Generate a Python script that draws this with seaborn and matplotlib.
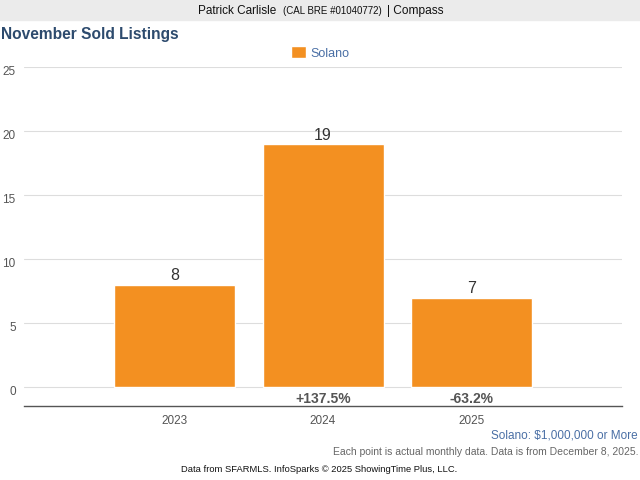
import pandas as pd
import matplotlib.pyplot as plt
import matplotlib.transforms as mtransforms
import seaborn as sns

years = ["2023", "2024", "2025"]
sold = [8, 19, 7]
changes = ["", "+137.5%", "-63.2%"]
region = "Solano"

ORANGE = "#f39021"
BLUE_TITLE = "#2d4b6e"
BLUE_TEXT = "#4a6fa5"

sns.set_theme(style="white")
plt.rcParams["font.family"] = ["Liberation Sans", "DejaVu Sans"]

fig = plt.figure(figsize=(6.4, 4.8), dpi=100)
ax = fig.add_axes([0.0375, 0.154, 0.9345, 0.706])

df = pd.DataFrame({"year": years, "sold": sold})
sns.barplot(data=df, x="year", y="sold", color=ORANGE, saturation=1,
            width=0.815, label=region, ax=ax)

ax.set_xlim(-1.013, 3.013)
ax.set_ylim(-1.48, 25)
ax.set_yticks([0, 5, 10, 15, 20, 25])
ax.set_xlabel("")
ax.set_ylabel("")
for y in [0, 5, 10, 15, 20, 25]:
    ax.axhline(y, color="#dddddd", lw=0.8, zorder=0)

for side in ["top", "right", "left"]:
    ax.spines[side].set_visible(False)
ax.spines["bottom"].set_color("#555555")
ax.spines["bottom"].set_linewidth(1)
ax.tick_params(axis="both", length=0, labelsize=8.5, colors="#555555")
ax.tick_params(axis="y", pad=6)
ax.tick_params(axis="x", pad=6.5)

# y labels sit slightly below their grid lines
shift = mtransforms.ScaledTranslation(0, -0.03, fig.dpi_scale_trans)
for lab in ax.get_yticklabels():
    lab.set_transform(lab.get_transform() + shift)

for i, v in enumerate(sold):
    ax.text(i, v + 0.1, str(v), ha="center", va="bottom", fontsize=11.5, color="#333333")
    if changes[i]:
        ax.text(i, -0.9, changes[i], ha="center", va="center", fontsize=10,
                fontweight="bold", color="#555555")

leg = ax.legend(loc="center", bbox_to_anchor=(0.501, 0.89), bbox_transform=fig.transFigure,
                frameon=False, fontsize=9, handlelength=1.15, handleheight=1.15,
                handletextpad=0.4)
for t in leg.get_texts():
    t.set_color(BLUE_TEXT)

# header band
fig.patches.append(plt.Rectangle((0, 1 - 20 / 480), 1, 20 / 480, transform=fig.transFigure,
                                 color="#ebebeb", zorder=0))
fig.text(0.309, 1 - 11 / 480, "Patrick Carlisle", ha="left", va="center", fontsize=8.5, color="#111111")
fig.text(0.442, 1 - 11.5 / 480, "(CAL BRE #01040772)", ha="left", va="center", fontsize=7, color="#111111")
fig.text(0.604, 1 - 11 / 480, "| Compass", ha="left", va="center", fontsize=8.6, color="#111111")

fig.text(0.0015, 1 - 35 / 480, "November Sold Listings", ha="left", va="center",
         fontsize=11.2, fontweight="bold", color=BLUE_TITLE)

fig.text(0.997, 1 - 435 / 480, "Solano: $1,000,000 or More", ha="right", va="center",
         fontsize=8.5, color=BLUE_TEXT)
fig.text(0.997, 1 - 452 / 480, "Each point is actual monthly data. Data is from December 8, 2025.",
         ha="right", va="center", fontsize=7.5, color="#666666")
fig.text(0.499, 1 - 470 / 480, "Data from SFARMLS. InfoSparks \u00a9 2025 ShowingTime Plus, LLC.",
         ha="center", va="center", fontsize=6.75, color="#111111")

fig.savefig("out.png", dpi=100)
